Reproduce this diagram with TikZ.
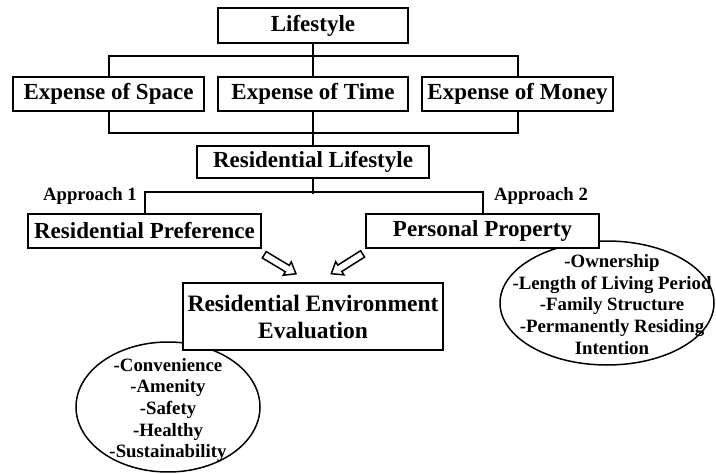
\documentclass[tikz,border=0pt]{standalone}
\usepackage{fontspec}
\setmainfont{Liberation Serif}
\usetikzlibrary{shapes.geometric,shapes.arrows,calc}

\tikzset{
  box/.style={draw, line width=2pt, fill=white, inner sep=0pt, align=center,
    font=\bfseries\fontsize{23}{27}\selectfont},
  oval/.style={draw, ellipse, line width=1.5pt, inner sep=0pt},
  items/.style={inner sep=0pt, align=center,
    font=\bfseries\fontsize{18.8}{21.7}\selectfont},
  tag/.style={inner sep=0pt, font=\bfseries\fontsize{18.7}{22}\selectfont},
  bracket/.style={line width=2pt},
  link/.style={line width=1.2pt},
  hollow/.style={draw, single arrow, fill=white, line width=1.5pt, inner sep=3pt,
    minimum height=37pt, single arrow head extend=4pt, single arrow tip angle=75,
    sloped, allow upside down, anchor=center}
}

\begin{document}
\begin{tikzpicture}[x=1pt,y=-1pt]
\useasboundingbox (0,0) rectangle (716,474);

\node[oval, minimum width=184, minimum height=130] (qualoval) at (168,407) {};
\node[items] (quallist) at (168,410) {-Convenience\\-Amenity\\-Safety\\-Healthy\\-Sustainability};
\node[oval, minimum width=214, minimum height=124] (propoval) at (607,303) {};
\node[items] (proplist) at (612,304.5) {-Ownership\\-Length of Living Period\\-Family Structure\\-Permanently Residing\\Intention};

\node[box, minimum width=190, minimum height=35] (life) at (313,25.5) {Lifestyle};
\node[box, minimum width=191, minimum height=34] (space) at (108.5,94) {Expense of Space};
\node[box, minimum width=190, minimum height=34] (time) at (313,94) {Expense of Time};
\node[box, minimum width=191, minimum height=34] (money) at (517.5,94) {Expense of Money};
\node[box, minimum width=232, minimum height=32] (reslife) at (313,162) {Residential Lifestyle};
\node[box, minimum width=233, minimum height=34] (pref) at (144.5,231) {Residential Preference};
\node[box, minimum width=233, minimum height=34] (prop) at (482.5,231) {Personal Property};
\node[box, minimum width=260, minimum height=67, font=\bfseries\fontsize{23.5}{27}\selectfont] (eval) at (313,316.5) {Residential Environment\\Evaluation};

\node[tag, anchor=east] (appr1) at (137,196) {Approach 1};
\node[tag, anchor=west] (appr2) at (494,196) {Approach 2};

\draw[link] (life) -- (time);
\draw[link] (time) -- (reslife);
\draw[bracket] (space.north) -- ++(0,-20) -| (money.north);
\draw[bracket] (space.south) -- ++(0,21) -| (money.south);
\coordinate (fork) at ($(reslife.south)+(0,15)$);
\draw[bracket] (reslife) -- (fork);
\draw[bracket] (pref.north) -- ++(0,-21) -| (prop.north);

\coordinate (a1s) at ($(pref.south east)+(1,5)$);
\coordinate (a1e) at ($(eval.north)+(-20,-10)$);
\coordinate (a2s) at ($(prop.south west)+(-1,4)$);
\coordinate (a2e) at ($(eval.north)+(21,-10)$);
\path (a1s) -- (a1e) node[hollow, midway] (arr1) {};
\path (a2s) -- (a2e) node[hollow, midway] (arr2) {};
\end{tikzpicture}
\end{document}
